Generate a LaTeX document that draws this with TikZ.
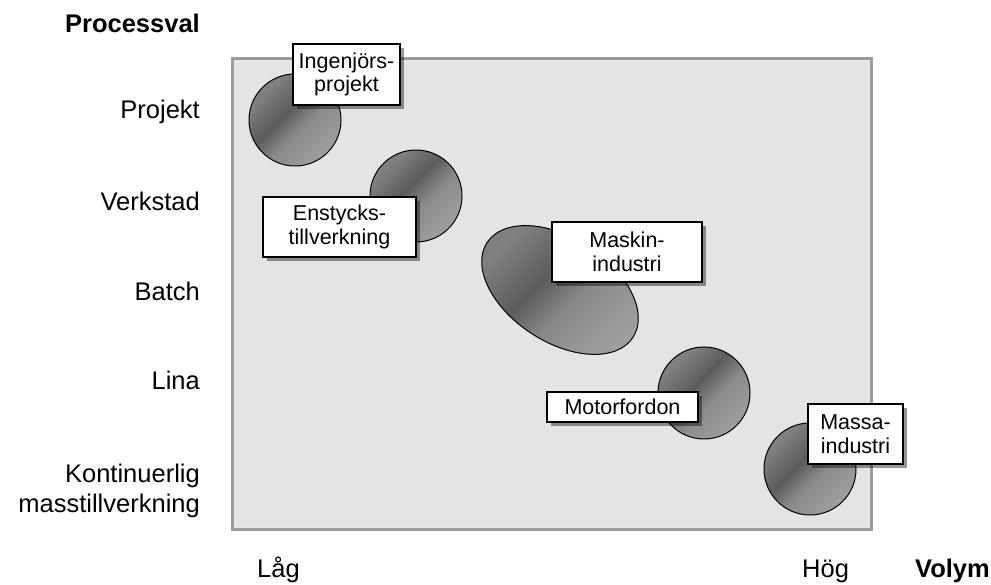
\documentclass[tikz,border=0pt]{standalone}
\usepackage{fontspec}
\setmainfont{Liberation Sans}
\usetikzlibrary{shadows,shapes.geometric}

\definecolor{panelfill}{HTML}{E4E4E4}
\definecolor{panelrim}{HTML}{9C9C9C}
\definecolor{blobA}{HTML}{808080}
\definecolor{blobB}{HTML}{5C5C5C}
\definecolor{blobC}{HTML}{8A8A8A}
\definecolor{blobD}{HTML}{A0A0A0}

% diagonal grey gradient used for the blobs
\pgfdeclarehorizontalshading{blobshade}{100bp}{%
  color(0bp)=(blobA); color(28bp)=(blobA); color(44bp)=(blobB);
  color(56bp)=(blobC); color(76bp)=(blobD); color(100bp)=(blobD)}

\tikzset{
  axislabel/.style={font=\fontsize{25.5}{30}\selectfont, inner sep=0pt},
  axistitle/.style={font=\fontsize{25.5}{30}\selectfont\bfseries, inner sep=0pt},
  blob/.style={draw=black, line width=1pt, shading=blobshade, shading angle=-45, inner sep=0pt},
  tag/.style={draw=black, line width=1.3pt, fill=white, inner sep=0pt, align=center,
    font=\fontsize{21.5}{23.5}\selectfont,
    drop shadow={shadow xshift=4pt, shadow yshift=-4pt, fill=black, opacity=0.4}},
}

\begin{document}
\begin{tikzpicture}[x=1pt,y=1pt]
\useasboundingbox (0,0) rectangle (991,585);

% plotting panel
\draw[panelrim, line width=3pt, fill=panelfill] (232,55) rectangle (871,526);
\draw[white!92!black, line width=0.8pt] (234.5,57.5) rectangle (868.5,523.5);

% vertical axis
\node[axistitle, anchor=base east] (title) at (200,552) {Processval};
\node[axislabel, anchor=base east] (pr) at (200,466) {Projekt};
\node[axislabel, anchor=base east] (vs) at (200,374) {Verkstad};
\node[axislabel, anchor=base east] (ba) at (200,284) {Batch};
\node[axislabel, anchor=base east] (li) at (200,195) {Lina};
\node[axislabel, anchor=east, align=right] (ko) at (200,94.5) {Kontinuerlig\\masstillverkning};

% horizontal axis
\node[axislabel, anchor=base west] (lo) at (257,7) {Låg};
\node[axislabel, anchor=base west] (hi) at (802,7) {Hög};
\node[axistitle, anchor=base east] (vol) at (990,7) {Volym};

% process regions
\node[blob, circle, minimum size=92pt] (c1) at (295,465) {};
\node[blob, circle, minimum size=92pt] (c2) at (416,389) {};
\node[blob, ellipse, minimum width=174pt, minimum height=104pt, rotate=-33] (c3) at (560,295) {};
\node[blob, circle, minimum size=92pt] (c4) at (704,192) {};
\node[blob, circle, minimum size=92pt] (c5) at (810,116) {};

% industry tags
\node[tag, minimum width=107pt, minimum height=61pt] (t1) at (346.5,510.5) {Ingenjörs-\\projekt};
\node[tag, minimum width=153pt, minimum height=60pt] (t2) at (339.5,358) {Enstycks-\\tillverkning};
\node[tag, minimum width=150pt, minimum height=60pt] (t3) at (627,333) {Maskin-\\industri};
\node[tag, minimum width=151pt, minimum height=30pt] (t4) at (622.5,178) {Motorfordon};
\node[tag, minimum width=95pt, minimum height=60pt] (t5) at (855.5,151) {Massa-\\industri};
\end{tikzpicture}
\end{document}
